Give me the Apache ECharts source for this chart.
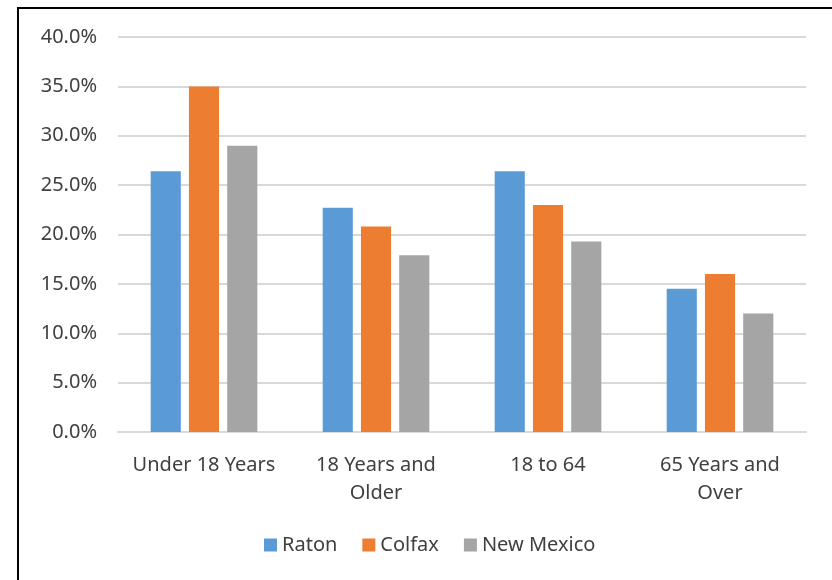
<!DOCTYPE html>
<html><head><meta charset="utf-8">
<script src="https://cdn.jsdelivr.net/npm/echarts@6/dist/echarts.min.js"></script>
<style>html,body{margin:0;padding:0;background:#fff}#c{width:832px;height:580px}</style>
</head><body><div id="c"></div>
<script>
const categories = ['Under 18 Years', '18 Years and\nOlder', '18 to 64', '65 Years and\nOver'];
const raton = [26.4, 22.7, 26.4, 14.5];
const colfax = [35.0, 20.8, 23.0, 16.0];
const newMexico = [29.0, 17.9, 19.3, 12.0];
const seriesNames = ['Raton', 'Colfax', 'New Mexico'];
const colors = ['#5b9bd5', '#ed7d31', '#a5a5a5'];
const font = 'Noto Sans';
const chart = echarts.init(document.getElementById('c'), null, {renderer: 'canvas'});
chart.setOption({
  animation: false,
  backgroundColor: '#fff',
  graphic: [{type: 'rect', shape: {x: 18, y: 8, width: 900, height: 700}, style: {fill: 'none', stroke: '#000', lineWidth: 2}, silent: true}],
  grid: {left: 118, right: 26, top: 37, bottom: 148, containLabel: false},
  legend: {
    bottom: 20, left: 259, itemWidth: 13, itemHeight: 13, itemGap: 25, icon: 'rect',
    textStyle: {fontFamily: font, fontSize: 20, color: '#404040'},
    data: seriesNames
  },
  xAxis: {
    type: 'category', data: categories,
    axisLine: {lineStyle: {color: '#d9d9d9', width: 2}},
    axisTick: {show: false},
    axisLabel: {fontFamily: font, fontSize: 20, color: '#404040', margin: 19, lineHeight: 28, interval: 0}
  },
  yAxis: {
    type: 'value', min: 0, max: 40, interval: 5,
    axisLine: {show: false}, axisTick: {show: false},
    splitLine: {lineStyle: {color: '#d9d9d9', width: 2}},
    axisLabel: {fontFamily: font, fontSize: 20, color: '#404040', margin: 21, formatter: v => v.toFixed(1) + '%'}
  },
  series: [
    {name: seriesNames[0], type: 'bar', data: raton, itemStyle: {color: colors[0]}, barGap: '27%', barCategoryGap: '38%'},
    {name: seriesNames[1], type: 'bar', data: colfax, itemStyle: {color: colors[1]}},
    {name: seriesNames[2], type: 'bar', data: newMexico, itemStyle: {color: colors[2]}}
  ]
});
</script></body></html>
